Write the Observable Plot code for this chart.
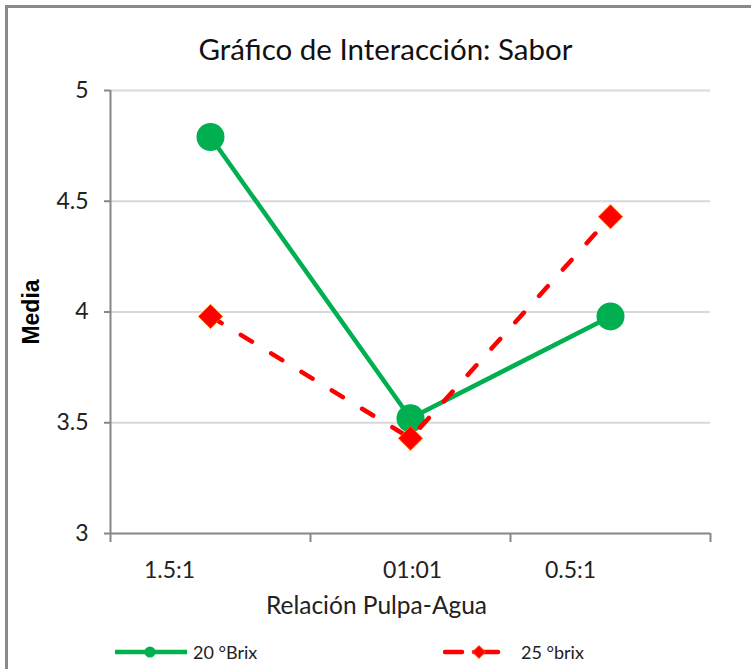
<!DOCTYPE html>
<html><head><meta charset="utf-8">
<script src="https://cdn.jsdelivr.net/npm/d3@7"></script>
<script src="https://cdn.jsdelivr.net/npm/@observablehq/plot@0.6"></script>
<style>
html,body{margin:0;padding:0;background:#fff;}
#wrap{position:relative;width:751px;height:669px;overflow:hidden;}
#frame{position:absolute;left:5px;top:5px;width:900px;height:900px;border-left:3px solid #8a8a8a;border-top:3px solid #8a8a8a;}
#chart{position:absolute;left:0;top:0;}
.leg{position:absolute;top:640px;height:24px;display:flex;align-items:center;font-family:Lato,sans-serif;font-size:18px;color:#222;white-space:nowrap;}
.leg svg{display:block;}
</style></head><body>
<div id="wrap"><div id="frame"></div><div id="chart"></div><div id="legend"></div></div>
<script>
const title = "Gráfico de Interacción: Sabor";
const xLabel = "Relación Pulpa-Agua";
const yLabel = "Media";
const categories = ["1.5:1", "01:01", "0.5:1"];
const seriesNames = ["20 °Brix", "25 °brix"];
const brix20 = [4.79, 3.52, 3.98];
const brix25 = [3.98, 3.43, 4.43];
const yTicks = [3, 3.5, 4, 4.5, 5];

const GREEN = "#00b050", RED = "#ff0000", AXIS = "#868686", GRID = "#d9d9d9", TXT = "#222";

const s20 = categories.map((c, i) => ({i, c, v: brix20[i]}));
const s25 = categories.map((c, i) => ({i, c, v: brix25[i]}));
const bounds = d3.range(categories.length + 1).map(i => i - 0.5);
const labelDx = [-41, 2, -40];

const catLabels = categories.map((c, i) =>
  Plot.text([{i, c}], {x: "i", y: () => 3, text: "c", dx: labelDx[i], dy: 37,
    fontSize: 23, fill: TXT, textAnchor: "middle"}));

const chart = Plot.plot({
  width: 751, height: 669,
  marginLeft: 110, marginRight: 41, marginTop: 90, marginBottom: 136,
  style: {fontFamily: "Lato, sans-serif", fontSize: "23px", color: TXT, background: "transparent", overflow: "visible"},
  x: {type: "linear", domain: [-0.5, categories.length - 0.5], axis: null},
  y: {domain: [3, 5], axis: null},
  marks: [
    Plot.ruleY(yTicks.filter(v => v > 3), {stroke: GRID, strokeWidth: 2}),
    Plot.axisY({ticks: yTicks, tickSize: 6, tickPadding: 16, stroke: AXIS, strokeWidth: 2, fill: TXT, fontSize: 23, label: null, tickFormat: d => String(d)}),
    Plot.axisX({ticks: bounds, tickSize: 9, stroke: AXIS, strokeWidth: 2, tickFormat: () => "", label: null}),
    Plot.ruleX([-0.5], {stroke: AXIS, strokeWidth: 2}),
    Plot.ruleY([3], {stroke: AXIS, strokeWidth: 2}),
    ...catLabels,
    Plot.text([xLabel], {frameAnchor: "bottom", lineAnchor: "middle", textAnchor: "middle", dx: -34, dy: 73, fontSize: 24.5, fill: TXT}),
    Plot.text([yLabel], {frameAnchor: "left", textAnchor: "middle", lineAnchor: "middle", rotate: -90, dx: -79, fontSize: 23, fontWeight: "bold", fontFamily: "Liberation Sans, Arial, sans-serif", fill: "#000"}),
    Plot.text([title], {frameAnchor: "top", lineAnchor: "middle", textAnchor: "middle", dx: -25, dy: -40, fontSize: 29.5, fill: "#111"}),
    Plot.line(s20, {x: "i", y: "v", stroke: GREEN, strokeWidth: 4.5}),
    Plot.dot(s20, {x: "i", y: "v", symbol: "circle", r: 14, fill: GREEN}),
    Plot.line(s25, {x: "i", y: "v", stroke: RED, strokeWidth: 4.5, strokeDasharray: "13,22.5", strokeLinecap: "round"}),
    Plot.dot(s25, {x: "i", y: "v", symbol: "diamond2", r: 10.8, fill: RED, stroke: "#ff5a00", strokeWidth: 1})
  ]
});
document.getElementById("chart").appendChild(chart);

const legend = document.getElementById("legend");
legend.innerHTML = `
<div class="leg" style="left:115px">
  <svg width="72" height="16"><line x1="0" y1="8" x2="72" y2="8" stroke="${GREEN}" stroke-width="4.5" stroke-linecap="round"/><circle cx="35" cy="8" r="5.5" fill="${GREEN}"/></svg>
  <span style="margin-left:6px">${seriesNames[0]}</span>
</div>
<div class="leg" style="left:443px">
  <svg width="58" height="16"><line x1="2" y1="8" x2="19" y2="8" stroke="${RED}" stroke-width="4.5" stroke-linecap="round"/><line x1="31" y1="8" x2="55" y2="8" stroke="${RED}" stroke-width="4.5" stroke-linecap="round"/><path d="M36,1.5 L42.5,8 L36,14.5 L29.5,8 Z" fill="${RED}" stroke="#ff5a00" stroke-width="1"/></svg>
  <span style="margin-left:20px">${seriesNames[1]}</span>
</div>`;
</script>
</body></html>
